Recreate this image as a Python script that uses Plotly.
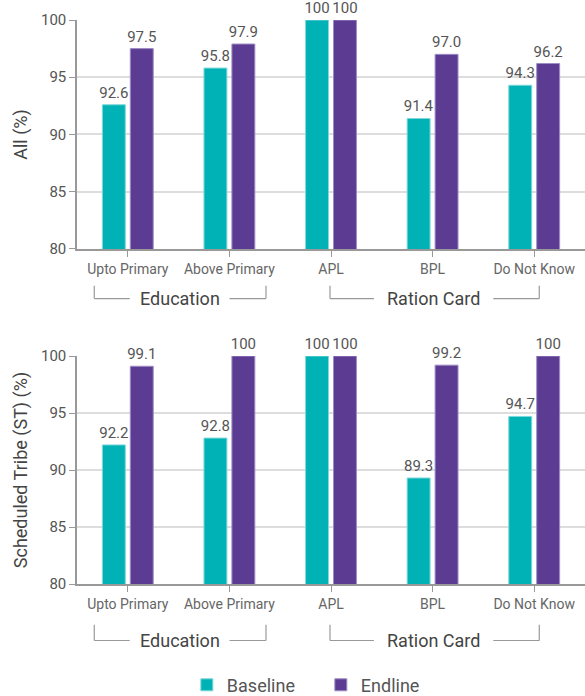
import plotly.graph_objects as go
from plotly.subplots import make_subplots

categories = ["Upto Primary", "Above Primary", "APL", "BPL", "Do Not Know"]
all_baseline = [92.6, 95.8, 100, 91.4, 94.3]
all_endline = [97.5, 97.9, 100, 97.0, 96.2]
st_baseline = [92.2, 92.8, 100, 89.3, 94.7]
st_endline = [99.1, 100, 100, 99.2, 100]
groups = [("Education", -0.33, 1.36, 0.51), ("Ration Card", 1.99, 4.05, 3.01)]

TEAL = "#00B2B5"
PURPLE = "#5C3C93"
FONT = "Roboto"
TXT = "#555555"


def fmt(v):
    return "100" if v == 100 else f"{v:.1f}"


fig = make_subplots(rows=2, cols=1, vertical_spacing=0.19)

xs = list(range(len(categories)))
for row, (b, e) in enumerate([(all_baseline, all_endline), (st_baseline, st_endline)], start=1):
    fig.add_trace(go.Bar(x=xs, y=b, name="Baseline", marker=dict(color=TEAL, line=dict(color="#7fd8da", width=1)),
                         text=[fmt(v) for v in b], textposition="outside", cliponaxis=False,
                         constraintext="none",
                         textfont=dict(size=15, color=TXT, family=FONT), showlegend=(row == 1)), row=row, col=1)
    fig.add_trace(go.Bar(x=xs, y=e, name="Endline", marker=dict(color=PURPLE, line=dict(color="#9d8cc4", width=1)),
                         text=[fmt(v) for v in e], textposition="outside", cliponaxis=False,
                         constraintext="none",
                         textfont=dict(size=15, color=TXT, family=FONT), showlegend=(row == 1)), row=row, col=1)

H = 704
T, B = 20, 115
ph = H - T - B
AX_BOT = H - B
top_dom = [(AX_BOT - 251) / ph, 1.0]
bot_dom = [0.0, (AX_BOT - 359) / ph]

axis_common = dict(showline=True, linecolor="#999999", linewidth=1.5)
for row, dom, title in [(1, top_dom, "All (%)"), (2, bot_dom, "Scheduled Tribe (ST) (%)")]:
    fig.update_yaxes(row=row, col=1, range=[80, 100], dtick=5, domain=dom, showgrid=True,
                     gridcolor="#dddddd", gridwidth=1.5, ticks="outside", ticklen=6, tickcolor="#999999",
                     tickfont=dict(size=15, color=TXT, family=FONT), zeroline=False,
                     title=dict(text=title, font=dict(size=18, color="#444444", family=FONT), standoff=9),
                     **axis_common)
    fig.update_xaxes(row=row, col=1, tickmode="array", tickvals=xs, ticktext=categories,
                     range=[-0.5, 4.5], ticks="outside", tickson="boundaries", ticklen=6, tickcolor="#999999",
                     tickfont=dict(size=14, color="#666666", family=FONT), showgrid=False, **axis_common)

# group brackets
for row, yref, xref, dh, top_off, line_off in [(1, "y domain", "x", 231, 37, 50), (2, "y2 domain", "x2", 230, 41, 57)]:
    ytop, yline = -top_off / dh, -line_off / dh
    for name, x0, x1, xc in groups:
        half = (len(name) * 4.9 + 6) / 102
        line = dict(color="#999999", width=1.2)
        fig.add_shape(type="line", xref=xref, yref=yref, x0=x0, x1=x0, y0=ytop, y1=yline, line=line)
        fig.add_shape(type="line", xref=xref, yref=yref, x0=x1, x1=x1, y0=ytop, y1=yline, line=line)
        fig.add_shape(type="line", xref=xref, yref=yref, x0=x0, x1=xc - half, y0=yline, y1=yline, line=line)
        fig.add_shape(type="line", xref=xref, yref=yref, x0=xc + half, x1=x1, y0=yline, y1=yline, line=line)
        fig.add_annotation(xref=xref, yref=yref, x=xc, y=yline, text=name, showarrow=False,
                           yanchor="middle", font=dict(size=18, color="#444444", family=FONT))

fig.update_layout(
    width=585, height=H,
    margin=dict(l=77, r=0, t=T, b=B),
    plot_bgcolor="white", paper_bgcolor="white",
    barmode="group", bargap=0.45, bargroupgap=0.18,
    font=dict(family=FONT, color=TXT),
    legend=dict(orientation="h", x=0.48, xanchor="center", y=(AX_BOT - 691) / ph, yanchor="middle",
                font=dict(size=18, color="#555555", family=FONT), entrywidth=89),
)

fig.write_html("out.html", config={"displayModeBar": False},
               post_script="document.body.style.margin='0';document.body.style.overflow='hidden';")
